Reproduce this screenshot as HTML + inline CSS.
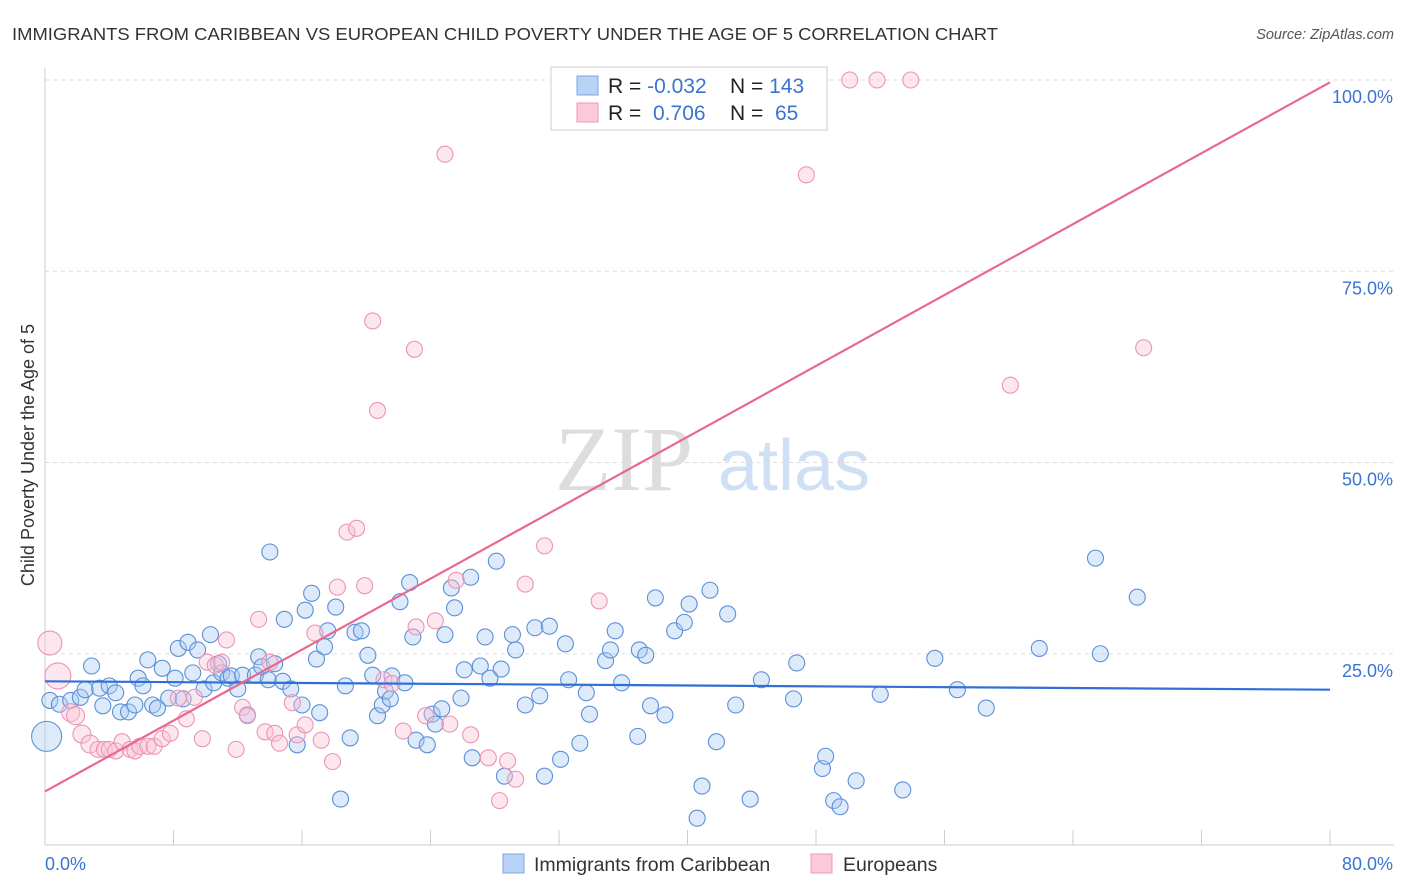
<!DOCTYPE html>
<html><head><meta charset="utf-8"><style>
body{margin:0;background:#fff;font-family:"Liberation Sans",sans-serif}
svg{display:block}
</style></head><body>
<svg id="c" width="1406" height="892">
<text x="12" y="40" font-size="17.5" fill="#333" textLength="986" lengthAdjust="spacingAndGlyphs">IMMIGRANTS FROM CARIBBEAN VS EUROPEAN CHILD POVERTY UNDER THE AGE OF 5 CORRELATION CHART</text>
<text x="1394" y="39" font-size="14.5" fill="#555" font-style="italic" text-anchor="end">Source: ZipAtlas.com</text>
<text x="555" y="490" font-size="92" fill="#ddd" font-family="Liberation Serif,serif">ZIP</text>
<text x="718" y="490" font-size="72" fill="#cfe0f5">atlas</text>
<text transform="translate(34,455) rotate(-90)" font-size="18" fill="#333" text-anchor="middle">Child Poverty Under the Age of 5</text>
<g id="grid"></g><g id="pts"></g><g id="lines"></g>
<g>
<rect x="551" y="67" width="276" height="63" fill="#fff" stroke="#ddd" stroke-width="1.5"/>
<rect x="577" y="76" width="21" height="19" fill="#b8d3f5" stroke="#7aa6e0"/>
<rect x="577" y="103" width="21" height="19" fill="#fbc9d8" stroke="#ee9ab4"/>
<text x="608" y="93" font-size="21" fill="#222">R = <tspan fill="#3a74d0">-0.032</tspan></text>
<text x="730" y="93" font-size="21" fill="#222">N = <tspan fill="#3a74d0">143</tspan></text>
<text x="608" y="120" font-size="21" fill="#222">R = <tspan fill="#3a74d0" x="653">0.706</tspan></text>
<text x="730" y="120" font-size="21" fill="#222">N = <tspan fill="#3a74d0" x="775">65</tspan></text>
</g>
<g>
<rect x="503" y="854" width="21" height="19" fill="#b8d3f5" stroke="#7aa6e0"/>
<text x="534" y="871" font-size="19.5" fill="#333">Immigrants from Caribbean</text>
<rect x="811" y="854" width="21" height="19" fill="#fbc9d8" stroke="#ee9ab4"/>
<text x="843" y="871" font-size="19.5" fill="#333">Europeans</text>
</g>
</svg>
<script>
const xTicks=[0,80];
const yTicks=[25,50,75,100];
const blueX=[0.3,0.9,1.6,2.2,2.9,2.5,3.4,3.6,4.0,4.4,4.7,5.2,5.6,5.8,6.1,6.4,6.7,7.0,7.3,7.7,8.1,8.3,8.6,8.9,9.2,9.5,9.9,10.3,10.5,10.8,11.0,11.4,11.6,12.0,12.3,12.6,13.1,13.3,13.5,13.9,14.0,14.3,14.8,14.9,15.3,15.7,16.0,16.2,16.6,16.9,17.1,17.4,17.6,18.1,18.4,18.7,19.0,19.3,19.7,20.1,20.4,20.7,21.0,21.2,21.5,21.6,22.1,22.4,22.7,22.9,23.1,23.8,24.1,24.3,24.7,24.9,25.3,25.5,25.9,26.1,26.5,26.6,27.1,27.4,27.7,28.1,28.4,28.6,29.1,29.3,29.9,30.5,30.8,31.1,31.4,32.1,32.4,32.6,33.3,33.7,33.9,34.9,35.2,35.5,35.9,36.9,37.0,37.4,37.7,38.0,38.6,39.2,39.8,40.1,40.6,40.9,41.4,41.8,42.5,43.0,43.9,44.6,46.6,46.8,48.4,48.6,49.1,49.5,50.5,52.0,53.4,55.4,56.8,58.6,61.9,65.4,65.7,68.0,0.1];
const blueY=[18.9,18.4,18.9,19.3,23.4,20.3,20.5,18.2,20.8,19.9,17.4,17.4,18.3,21.8,20.8,24.2,18.3,17.9,23.1,19.2,21.8,25.7,19.1,26.5,22.5,25.5,20.4,27.5,21.2,23.7,22.5,21.8,22.1,20.4,22.2,17.0,22.2,24.6,23.3,21.6,38.3,23.7,21.4,29.5,20.4,13.1,18.3,30.7,32.9,24.3,17.3,25.9,28.0,31.1,6.0,20.8,14.0,27.8,28.0,24.8,22.2,16.9,18.3,20.1,19.1,22.1,31.8,21.2,34.3,27.2,13.7,13.1,17.1,15.8,17.8,27.5,33.6,31.0,19.2,22.9,35.0,11.4,23.4,27.2,21.8,37.1,23.0,9.0,27.5,25.5,18.3,28.4,19.5,9.0,28.6,11.2,26.3,21.6,13.3,19.9,17.1,24.1,25.5,28.0,21.2,14.2,25.5,24.8,18.2,32.3,17.0,28.0,29.1,31.5,3.5,7.7,33.3,13.5,30.2,18.3,6.0,21.6,19.1,23.8,10.0,11.6,5.8,5.0,8.4,19.7,7.2,24.4,20.3,17.9,25.7,37.5,25.0,32.4,14.2];
const pinkX=[0.3,0.8,1.6,1.9,2.3,2.8,3.3,3.7,4.0,4.4,4.8,5.3,5.6,5.9,6.4,6.8,7.3,7.8,8.3,8.8,9.3,9.8,10.1,10.6,11.0,11.3,11.9,12.3,12.6,13.3,13.7,14.0,14.3,14.6,15.4,15.7,16.2,16.8,17.2,17.9,18.2,18.8,19.4,19.9,20.4,20.7,21.1,21.6,22.3,23.0,23.1,23.7,24.3,24.9,25.2,25.6,26.5,27.6,28.3,28.8,29.3,29.9,31.1,34.5,47.4,50.1,51.8,53.9,60.1,68.4];
const pinkY=[26.4,22.1,17.3,16.9,14.5,13.2,12.5,12.5,12.5,12.3,13.5,12.5,12.3,12.9,12.9,12.9,13.9,14.6,19.2,16.5,19.3,13.9,23.9,23.5,23.9,26.8,12.5,18.0,16.9,29.5,14.8,23.9,14.6,13.3,18.6,14.4,15.7,27.7,13.7,10.9,33.7,40.9,41.4,33.9,68.5,56.8,21.6,21.1,14.9,64.8,28.5,16.9,29.3,90.3,15.8,34.6,14.4,11.4,5.8,11.0,8.6,34.1,39.1,31.9,87.6,100,100,100,60.1,65.0];
const pinkR=[12,13,9,9,9,9,8,8,8,8,8,8,8,8,8,8,8,8,8,8,8,8,8,8,8,8,8,8,8,8,8,8,8,8,8,8,8,8,8,8,8,8,8,8,8,8,8,8,8,8,8,8,8,8,8,8,8,8,8,8,8,8,8,8,8,8,8,8,8,8];
const blueTrend=[21.4,20.3];
const pinkTrend=[7.0,99.7];
const X0=45,X1=1330,Y0=845,Y1=80;
const sx=v=>X0+(v/80)*(X1-X0);
const sy=v=>Y0-(v/100)*(Y0-Y1);
const NS='http://www.w3.org/2000/svg';
function mk(p,t,a){const e=document.createElementNS(NS,t);for(const k in a)e.setAttribute(k,a[k]);document.getElementById(p).appendChild(e);return e;}
yTicks.forEach(t=>{
 const l=mk('grid','line',{x1:X0,x2:1394,y1:sy(t),y2:sy(t),stroke:'#ddd','stroke-dasharray':'4 4'});
 
 
 const tx=mk('grid','text',{x:1393,y:sy(t)+23,'font-size':18,fill:'#3a74d0','text-anchor':'end'});
 tx.textContent=t.toFixed(1)+'%';
 
 
});
mk('grid','line',{x1:X0,x2:X0,y1:68,y2:Y0,stroke:'#ccc'});
mk('grid','line',{x1:X0,x2:1394,y1:Y0,y2:Y0,stroke:'#ccc'});
for(let i=0;i<=10;i++){const x=sx(i*8);mk('grid','line',{x1:x,x2:x,y1:830,y2:Y0,stroke:'#ccc'});}
xTicks.forEach((t,i)=>{
 const tx=mk('grid','text',{x:i?1393:45,y:870,'font-size':18,fill:'#3a74d0','text-anchor':i?'end':'start'});
 tx.textContent=t.toFixed(1)+'%';
 
 
});
blueX.forEach((v,i)=>{
 const c=mk('pts','circle',{cx:sx(v),cy:sy(blueY[i]),r:i===blueX.length-1?15:8,fill:'rgba(170,202,242,0.4)',stroke:'#5b8fd8','stroke-width':1.1});
 
 
});
pinkX.forEach((v,i)=>{
 const c=mk('pts','circle',{cx:sx(v),cy:sy(pinkY[i]),r:pinkR[i],fill:'rgba(250,195,214,0.4)',stroke:'#ec94b2','stroke-width':1.1});
 
 
});
const bl=mk('lines','line',{x1:sx(0),x2:sx(80),y1:sy(blueTrend[0]),y2:sy(blueTrend[1]),stroke:'#2f6fd6','stroke-width':2.2});


const pl=mk('lines','line',{x1:sx(0),x2:sx(80),y1:sy(pinkTrend[0]),y2:sy(pinkTrend[1]),stroke:'#e8698f','stroke-width':2.2});


</script>
</body></html>
